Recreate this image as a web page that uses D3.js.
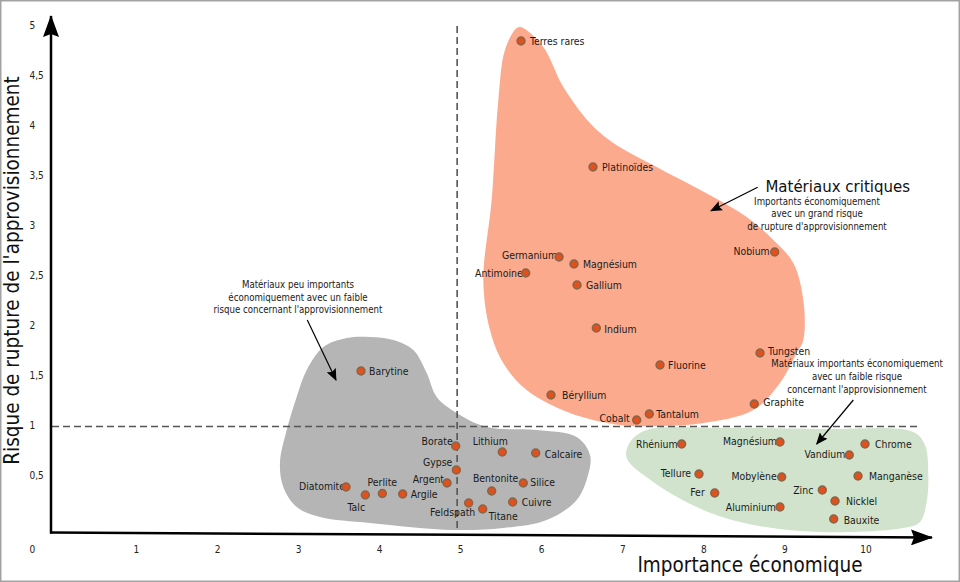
<!DOCTYPE html>
<html><head><meta charset="utf-8">
<script src="https://cdn.jsdelivr.net/npm/d3@7/dist/d3.min.js"></script>
<style>
html,body{margin:0;padding:0;background:#fff;}
svg text{font-family:"DejaVu Sans Condensed","DejaVu Sans",sans-serif;font-stretch:condensed;}
</style></head>
<body>
<svg id="chart" width="960" height="582"></svg>
<script>
// ---------- DATA ----------
const xTicks = [1,2,3,4,5,6,7,8,9,10];
const yTicks = [0.5,1,1.5,2,2.5,3,3.5,4,4.5,5];
const originLabel = "0";
const xThreshold = 5;
const yThreshold = 1;

// [name, importance économique, risque de rupture]
const criticalMaterials = [
  ["Terres rares",5.751,4.84],["Platinoïdes",6.639,3.58],["Germanium",6.220,2.68],
  ["Magnésium",6.405,2.61],["Antimoine",5.809,2.52],["Gallium",6.442,2.40],
  ["Nobium",8.881,2.73],["Indium",6.680,1.97],["Tungsten",8.700,1.72],
  ["Fluorine",7.466,1.60],["Béryllium",6.121,1.30],["Graphite",8.629,1.21],
  ["Tantalum",7.334,1.11],["Cobalt",7.178,1.05]
];
const minorMaterials = [
  ["Barytine",3.777,1.54],["Borate",4.945,0.79],["Gypse",4.953,0.55],
  ["Argent",4.838,0.42],["Diatomite",3.592,0.38],["Talc",3.830,0.30],
  ["Perlite",4.040,0.315],["Argile",4.291,0.31],["Feldspath",5.105,0.22],
  ["Lithium",5.520,0.73],["Calcaire",5.932,0.72],["Bentonite",5.389,0.34],
  ["Silice",5.779,0.42],["Cuivre",5.648,0.23],["Titane",5.278,0.16]
];
const secureMaterials = [
  ["Rhénium",7.733,0.81],["Magnésium",8.946,0.83],["Chrome",9.995,0.81],
  ["Vandium",9.801,0.70],["Tellure",7.947,0.51],["Mobylène",8.967,0.48],
  ["Manganèse",9.909,0.49],["Fer",8.141,0.32],["Zinc",9.468,0.35],
  ["Nicklel",9.625,0.24],["Aluminium",8.946,0.18],["Bauxite",9.609,0.06]
];

// zone outlines (data units)
const criticalZone = [
  [5.759,4.977],[6.026,4.78],[6.273,4.38],[6.602,4.02],[6.890,3.82],[7.425,3.58],
  [8.123,3.28],[8.535,3.08],[8.864,2.85],[9.110,2.62],[9.234,2.25],[9.234,1.85],
  [9.152,1.72],[8.946,1.42],[8.617,1.15],[8.000,1.02],[7.466,0.99],[6.972,1.00],
  [6.355,1.12],[5.821,1.35],[5.532,1.62],[5.368,1.95],[5.286,2.45],[5.389,3.25],
  [5.471,4.25],[5.553,4.75],[5.698,4.97]
];
const minorZone = [
  [3.600,1.87],[3.888,1.88],[4.175,1.85],[4.422,1.75],[4.587,1.52],[4.711,1.28],
  [4.957,1.12],[5.328,0.98],[5.944,0.95],[6.438,0.88],[6.602,0.70],[6.578,0.50],
  [6.438,0.25],[6.068,0.05],[5.532,-0.03],[4.915,-0.05],[3.888,0.02],[3.271,0.08],
  [2.983,0.18],[2.818,0.38],[2.777,0.62],[2.860,0.95],[2.983,1.28],[3.107,1.55],
  [3.312,1.78]
];
const secureZone = [
  [7.096,0.83],[7.302,0.95],[8.206,0.97],[9.440,0.96],[10.591,0.93],[10.735,0.80],
  [10.776,0.50],[10.756,0.23],[10.674,0.03],[10.468,-0.03],[9.440,-0.07],[8.617,0.00],
  [8.000,0.15],[7.383,0.43],[7.055,0.67]
];

const xTitle = "Importance économique";
const yTitle = "Risque de rupture de l'approvisionnement";
const criticalTitle = "Matériaux critiques";
const criticalNote = ["Importants économiquement","avec un grand risque","de rupture d'approvisionnement"];
const minorNote = ["Matériaux peu importants","économiquement avec un faible","risque concernant l'approvisionnement"];
const secureNote = ["Matériaux importants économiquement","avec un faible risque","concernant l'approvisionnement"];

// ---------- LAYOUT / STYLE ----------
const labelPlacement = {
  critical: [["start",9,0],["start",9,0],["end",-2,-2],["start",9,0],["end",-3,0],["start",9,0],
             ["end",-5,-1],["start",8,1],["start",8,-2],["start",8,0],["start",11,0],["start",9,-2],
             ["start",7,0],["end",-7,-2]],
  minor: [["start",8,0],["end",-3,-5],["end",-4,-8],["end",-3,-4],["end",-1,-1],["middle",-9,12],
          ["middle",0,-11],["start",8,0],["middle",-16,9],["middle",-12,-11],["start",9,1],
          ["middle",4,-13],["start",7,-1],["start",9,0],["start",6,7]],
  secure: [["end",-4,0],["end",-3,-1],["start",10,0],["end",-4,-1],["end",-8,-1],["end",-5,-1],
           ["start",11,0],["end",-10,-1],["end",-9,0],["start",11,0],["end",-4,0],["start",10,1]]
};

const svg = d3.select("#chart");
const x = d3.scaleLinear().domain([0,10]).range([54.9,865.4]);
const y = d3.scaleLinear().domain([0,5]).range([525,25]);

// frame
svg.append("rect").attr("x",0.75).attr("y",0.75).attr("width",958.5).attr("height",580.5)
  .attr("fill","#fff").attr("stroke","#a3a3a3").attr("stroke-width",1.5);

// zones
const zoneLine = d3.line().x(d=>x(d[0])).y(d=>y(d[1])).curve(d3.curveCatmullRomClosed.alpha(0.5));
svg.append("path").attr("d",zoneLine(criticalZone)).attr("fill","#fbaa8e");
svg.append("path").attr("d",zoneLine(minorZone)).attr("fill","#b5b5b5");
svg.append("path").attr("d",zoneLine(secureZone)).attr("fill","#d1e3cc");

// threshold dashed lines
svg.append("line").attr("x1",x(xThreshold)-3).attr("x2",x(xThreshold)-3).attr("y1",26).attr("y2",532)
  .attr("stroke","#555").attr("stroke-width",1.6).attr("stroke-dasharray","7,4");
svg.append("line").attr("x1",52).attr("x2",917).attr("y1",y(yThreshold)+1.5).attr("y2",y(yThreshold)+1.5)
  .attr("stroke","#555").attr("stroke-width",1.6).attr("stroke-dasharray","7,4");

// axes lines with arrows
const defs = svg.append("defs");
defs.append("marker").attr("id","bigArrow").attr("viewBox","0 -8 22 16").attr("refX",21).attr("refY",0)
  .attr("markerWidth",22).attr("markerHeight",16).attr("markerUnits","userSpaceOnUse").attr("orient","auto")
  .append("path").attr("d","M0,-8 L22,0 L0,8 L3,0 Z").attr("fill","#000");
defs.append("marker").attr("id","smallArrow").attr("viewBox","0 -5 12 10").attr("refX",11).attr("refY",0)
  .attr("markerWidth",12).attr("markerHeight",10).attr("markerUnits","userSpaceOnUse").attr("orient","auto")
  .append("path").attr("d","M0,-5 L12,0 L0,5 L2,0 Z").attr("fill","#000");

svg.append("line").attr("x1",51).attr("y1",533.5).attr("x2",51).attr("y2",16)
  .attr("stroke","#000").attr("stroke-width",2.5).attr("marker-end","url(#bigArrow)");
svg.append("line").attr("x1",50).attr("y1",532.5).attr("x2",932).attr("y2",537.5)
  .attr("stroke","#000").attr("stroke-width",2.5).attr("marker-end","url(#bigArrow)");

// tick labels through d3 axes
const fmt = d => String(d).replace(".", ",");
const gx = svg.append("g").attr("transform","translate(0,549)")
  .call(d3.axisBottom(x).tickValues(xTicks).tickSize(0).tickFormat(fmt));
gx.select(".domain").remove();
gx.selectAll("text").attr("y",0).attr("dy","0.35em").attr("font-size",10).attr("fill","#222");

const gy = svg.append("g").attr("transform","translate(29.5,0)")
  .call(d3.axisLeft(y).tickValues(yTicks).tickSize(0).tickFormat(fmt));
gy.select(".domain").remove();
gy.selectAll("text").attr("x",0).attr("dy","0.35em").attr("text-anchor","start")
  .attr("font-size",10).attr("fill","#222");
svg.append("text").attr("x",29.5).attr("y",549).attr("dy","0.35em").attr("font-size",10)
  .attr("fill","#222").text(originLabel);

// axis titles
svg.append("text").attr("x",750).attr("y",572).attr("text-anchor","middle").attr("font-size",20.5)
  .attr("fill","#111").text(xTitle);
svg.append("text").attr("transform","translate(19,270.5) rotate(-90)").attr("text-anchor","middle")
  .attr("font-size",20.5).attr("fill","#111").text(yTitle);

// annotations
function note(lines, cx, cy0, step){
  const t = svg.append("text").attr("text-anchor","middle").attr("font-size",9.6).attr("fill","#1a1a1a");
  lines.forEach((l,i)=>t.append("tspan").attr("x",cx).attr("y",cy0+i*step).attr("dy","0.35em").text(l));
}
svg.append("text").attr("x",837.7).attr("y",192).attr("text-anchor","middle").attr("font-size",15)
  .style("font-family","'DejaVu Sans',sans-serif").style("font-stretch","normal")
  .attr("fill","#111").text(criticalTitle);
note(criticalNote, 817, 201.5, 12.6);
note(minorNote, 298, 284.7, 12.7);
note(secureNote, 857, 364, 12.7);

const arrows = [
  [[3.114,2.05],[3.468,1.45]],
  [[8.671,3.377],[8.095,3.143]],
  [[9.851,1.25],[9.399,0.81]]
];
svg.selectAll(".ann").data(arrows).join("line").attr("class","ann")
  .attr("x1",d=>x(d[0][0])).attr("y1",d=>y(d[0][1])).attr("x2",d=>x(d[1][0])).attr("y2",d=>y(d[1][1]))
  .attr("stroke","#000").attr("stroke-width",1.2).attr("marker-end","url(#smallArrow)");

// labels then points
function group(data, placement){
  const g = svg.append("g");
  g.selectAll("text").data(data).join("text")
    .attr("x",(d,i)=>x(d[1])+placement[i][1])
    .attr("y",(d,i)=>y(d[2])+placement[i][2])
    .attr("dy","0.35em")
    .attr("text-anchor",(d,i)=>placement[i][0])
    .attr("font-size",10.4).attr("fill","#1a1a1a").text(d=>d[0]);
  g.selectAll("circle").data(data).join("circle")
    .attr("cx",d=>x(d[1])).attr("cy",d=>y(d[2])).attr("r",3.9)
    .attr("fill","#e2501c").attr("stroke","#8a6548").attr("stroke-width",1.6);
}
group(criticalMaterials, labelPlacement.critical);
group(minorMaterials, labelPlacement.minor);
group(secureMaterials, labelPlacement.secure);
</script>
</body></html>
